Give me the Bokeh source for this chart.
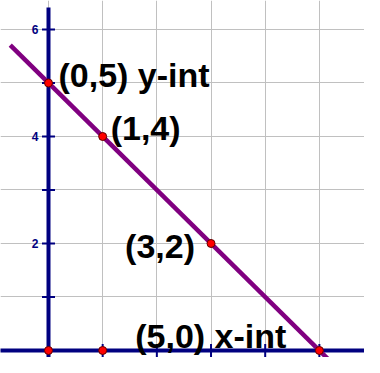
from bokeh.plotting import figure
from bokeh.models import FixedTicker, Range1d, ColumnDataSource
from bokeh.core.properties import value
from bokeh.embed import file_html
from bokeh.resources import INLINE

# ---- data ----
point_x = [0, 1, 3, 5, 0, 1]
point_y = [5, 4, 2, 0, 0, 0]
label_text = ["(0,5) y-int", "(1,4)", "(3,2)", "(5,0) x-int"]
label_x = [0, 1, 3, 5]
label_y = [5, 4, 2, 0]
slope = -1
intercept = 5
grid_x = [-1, 0, 1, 2, 3, 4, 5, 6]
grid_y = [-1, 0, 1, 2, 3, 4, 5, 6, 7]
xtick_pos = [1, 2, 3, 4, 5, 6]
ytick_pos = [1, 2, 3, 4, 5, 6]
ytick_label_pos = [2, 4, 6]
ytick_labels = ["2", "4", "6"]

# ---- styles ----
NAVY = "#000080"
PURPLE = "#800080"
FONT = "Liberation Sans"
label_dx = [10, 8, -16, -33]
label_dy = [-8, -8, 3, -14]
label_align = ["left", "left", "right", "right"]

XR = Range1d(-0.886, 5.833)
YR = Range1d(-0.131, 6.542)

p = figure(width=364, height=357, x_range=XR, y_range=YR,
           output_backend="svg", toolbar_location=None,
           min_border=0, min_border_left=0, min_border_right=0,
           min_border_top=0, min_border_bottom=0)
p.xaxis.visible = False
p.yaxis.visible = False
p.outline_line_color = None
p.background_fill_color = "white"
p.xgrid.ticker = FixedTicker(ticks=grid_x)
p.ygrid.ticker = FixedTicker(ticks=grid_y)
p.xgrid.grid_line_color = "#c0c0c0"
p.ygrid.grid_line_color = "#c0c0c0"
p.xgrid.grid_line_width = 1
p.ygrid.grid_line_width = 1

# axes lines through origin
p.line(x=[XR.start - 1, XR.end + 1], y=[0, 0], line_color=NAVY, line_width=4)
p.line(x=[0, 0], y=[YR.start - 1, YR.end - 0.13], line_color=NAVY, line_width=4)

# tick marks
p.scatter(x=[0] * len(ytick_pos), y=ytick_pos, marker="dash", size=13,
          line_color=NAVY, line_width=2)
p.scatter(x=xtick_pos, y=[0] * len(xtick_pos), marker="dash", size=13,
          angle=1.5708, line_color=NAVY, line_width=2)

# y tick labels
p.text(x=[0] * len(ytick_label_pos), y=ytick_label_pos, text=ytick_labels,
       x_offset=-10, text_align="right", text_baseline="middle",
       text_font=value(FONT), text_font_style="bold", text_font_size="12px",
       text_color=NAVY)

# the line y = slope*x + intercept
lx = [XR.start + 0.18, XR.end + 0.5]
ly = [slope * v + intercept for v in lx]
p.line(x=lx, y=ly, line_color=PURPLE, line_width=4.5)

# points
p.scatter(x=point_x, y=point_y, size=8, fill_color="#ff0000",
          line_color="#600000", line_width=1)

# labels
src = ColumnDataSource(dict(x=label_x, y=label_y, text=label_text,
                            dx=label_dx, dy=label_dy, align=label_align))
p.text(x="x", y="y", text="text", x_offset="dx", y_offset="dy",
       text_align="align", text_baseline="alphabetic", source=src,
       text_font=value(FONT), text_font_style="bold", text_font_size="34px",
       text_color="black")

open("out.html", "w").write(file_html(p, INLINE))
